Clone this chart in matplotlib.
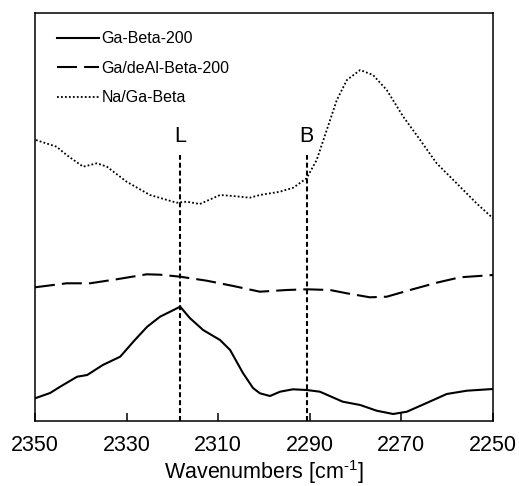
import matplotlib
matplotlib.use("Agg")
import matplotlib.pyplot as plt

plt.rcParams['font.family'] = ['Liberation Sans', 'DejaVu Sans']
plt.rcParams['mathtext.fontset'] = 'custom'
plt.rcParams['mathtext.rm'] = 'Liberation Sans'

# Ga-Beta-200 (solid)
wn_solid = [2350, 2346.7, 2344.5, 2340.8, 2338.6, 2335.2, 2331.4, 2328.2, 2325.5, 2322.7,
            2320.5, 2318.3, 2316.2, 2313.3, 2309.6, 2307.4, 2304.6, 2302.4, 2300.9, 2298.7,
            2296.5, 2293.7, 2290.7, 2287.8, 2282.8, 2279.0, 2275.4, 2271.8, 2268.8, 2264.5,
            2260.1, 2255.7, 2250]
abs_solid = [22.7, 28, 34.3, 44.3, 46, 56, 64.3, 81, 94.3, 104.3,
             109.3, 114.3, 103, 91, 81, 71, 48, 33, 27.7, 25,
             29.3, 31.7, 31, 29.3, 19.3, 16, 10.3, 7, 9.3, 18,
             27, 30.3, 32]

# Ga/deAl-Beta-200 (dashed)
wn_dash = [2350, 2343.1, 2338.0, 2332.2, 2325.6, 2322.7, 2318.3, 2312.5, 2306.7, 2300.9,
           2295.0, 2290.7, 2285.6, 2281.9, 2276.9, 2273.2, 2268.1, 2262.3, 2257.2, 2250]
abs_dash = [133.7, 137.7, 137.7, 141.7, 146.7, 146.3, 144.3, 140.3, 135, 129.3,
            131, 131.7, 131, 127.7, 123.7, 124.3, 131, 138.3, 143.7, 146]

# Na/Ga-Beta (dotted)
wn_dot = [2349.8, 2345.3, 2343.1, 2339.5, 2336.5, 2334.3, 2330.0, 2324.9, 2319.1, 2316.9,
          2314.0, 2309.6, 2306.8, 2303.1, 2300.9, 2296.5, 2293.6, 2290.7, 2288.5, 2286.3,
          2284.1, 2281.9, 2279.0, 2276.2, 2273.2, 2269.6, 2265.9, 2262.3, 2257.2, 2253.6, 2250]
abs_dot = [281, 274.3, 266, 254.3, 257.7, 254.3, 239.3, 226, 218.3, 219.3,
           217, 226, 225, 223.3, 226, 229.3, 233.3, 242.7, 261, 291,
           321, 341, 351, 346, 331, 304.3, 281, 257.7, 234.3, 217.7, 202.7]

series_labels = ['Ga-Beta-200', 'Ga/deAl-Beta-200', 'Na/Ga-Beta']
marker_pos = [2318.3, 2290.7]
marker_labels = ['L', 'B']
marker_top = 266
xticks = [2350, 2330, 2310, 2290, 2270, 2250]

fig = plt.figure(figsize=(5.19, 4.86), dpi=100)
ax = fig.add_axes([35/519, 65/486, 458/519, 408/486])

ax.plot(wn_solid, abs_solid, color='black', lw=1.5, label=series_labels[0])
ax.plot(wn_dash, abs_dash, color='black', lw=1.5, linestyle=(0, (9.6, 3.4)), label=series_labels[1])
ax.plot(wn_dot, abs_dot, color='black', lw=1.3, linestyle=(0, (1, 1.2)), label=series_labels[2])

for xp, lab in zip(marker_pos, marker_labels):
    ax.plot([xp, xp], [0, marker_top], color='black', lw=1.5, linestyle=(0, (2.4, 1.4)))
    ax.text(xp, marker_top + 19, lab, ha='center', va='center', fontsize=15.5)

ax.set_xlim(2350, 2250)
ax.set_ylim(0, 408)
ax.set_xticks(xticks)
ax.set_xticklabels([str(t) for t in xticks])
ax.set_yticks([])
ax.tick_params(axis='x', direction='in', length=6, width=1.1, labelsize=15.5, pad=10)
for s in ax.spines.values():
    s.set_linewidth(1.1)
ax.set_xlabel(r'Wavenumbers [cm$^{\text{-1}}$]', fontsize=15.5, labelpad=1.5)

ax.legend(loc='upper left', bbox_to_anchor=(22/458, 0.955), frameon=False, fontsize=11.5,
          handlelength=2.6, handletextpad=0.2, labelspacing=0.9, borderpad=0, borderaxespad=0)

fig.savefig('out.png', dpi=100)
